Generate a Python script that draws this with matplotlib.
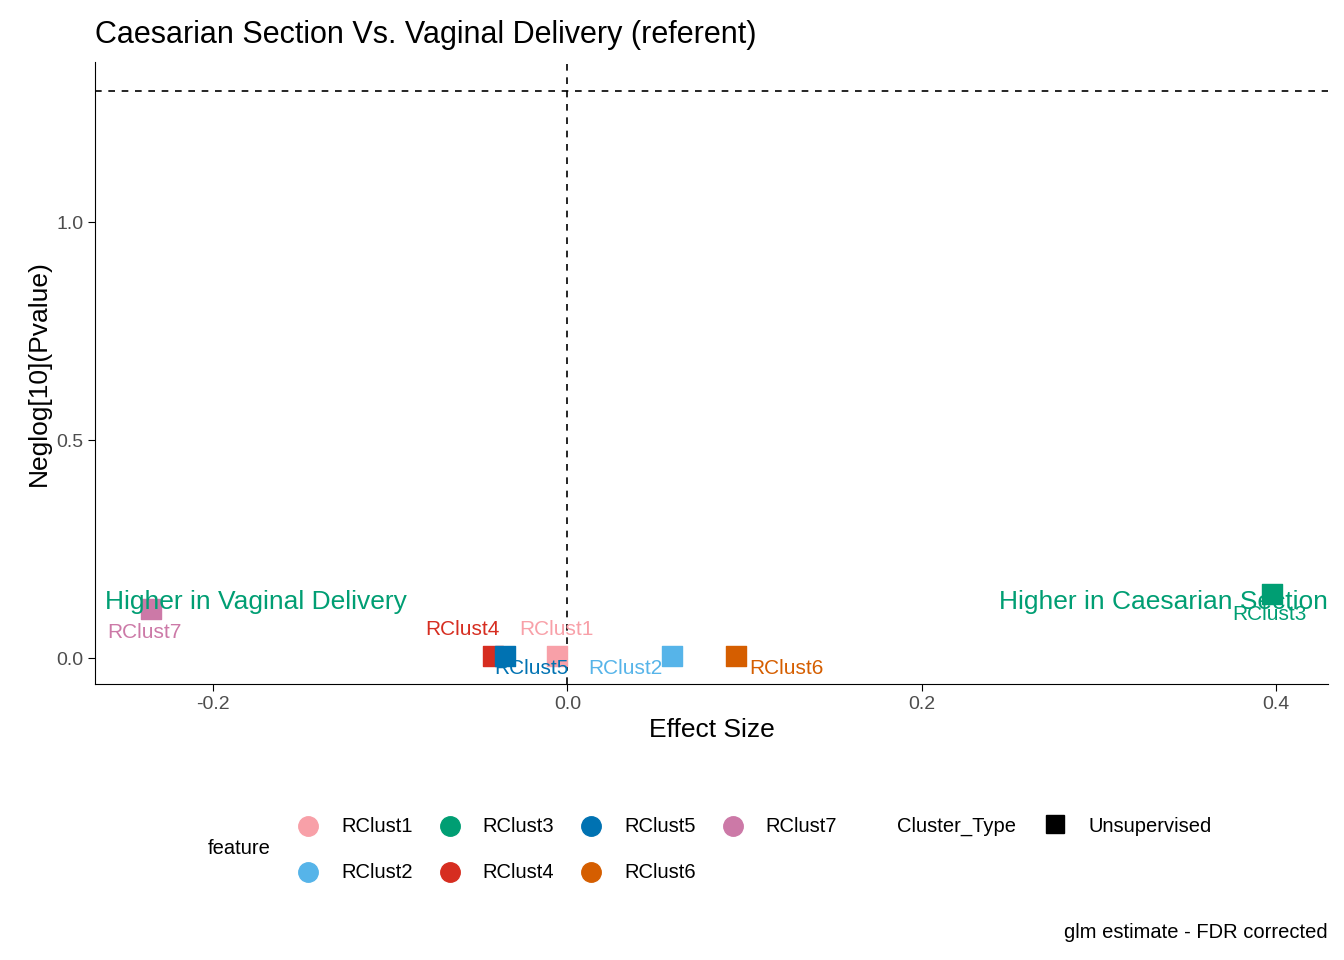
import matplotlib.pyplot as plt
from matplotlib.lines import Line2D

plt.rcParams['font.family'] = ['Liberation Sans', 'DejaVu Sans']

features = ['RClust1', 'RClust2', 'RClust3', 'RClust4', 'RClust5', 'RClust6', 'RClust7']
effect = [-0.006, 0.059, 0.398, -0.042, -0.035, 0.095, -0.235]
neglogp = [0.005, 0.005, 0.147, 0.005, 0.005, 0.005, 0.112]
colors = ['#F8A0A8', '#56B4E9', '#009E73', '#D62D20', '#0072B2', '#D55E00', '#CC79A7']
# label offsets in points (dx, dy) and alignment
label_off = {'RClust1': (-27, 19, 'left'), 'RClust2': (-60, -9, 'left'), 'RClust3': (-2, -15, 'center'),
             'RClust4': (5, 19, 'right'), 'RClust5': (-8, -9, 'left'), 'RClust6': (10, -9, 'left'),
             'RClust7': (-5, -17, 'center')}

fig = plt.figure(figsize=(13.44, 9.6), dpi=100)
ax = fig.add_axes([0.0707, 0.2875, 0.9173, 0.6479])

ax.axhline(1.301, color='black', ls=(0, (4, 4)), lw=1.2)
ax.axvline(0, color='black', ls=(0, (4, 4)), lw=1.2)
for f, x, y, c in zip(features, effect, neglogp, colors):
    ax.scatter(x, y, marker='s', s=190, color=c, zorder=3)
    dx, dy, ha = label_off[f]
    ax.annotate(f, (x, y), xytext=(dx, dy), textcoords='offset points', ha=ha, va='center',
                color=c, fontsize=15, zorder=4)

ax.text(-0.261, 0.128, 'Higher in Vaginal Delivery', color='#009E73', fontsize=19, va='center', ha='left')
ax.text(0.4293, 0.128, 'Higher in Caesarian Section', color='#009E73', fontsize=19, va='center', ha='right')

ax.set_xlim(-0.2666, 0.4293)
ax.set_ylim(-0.0596, 1.367)
ax.set_xticks([-0.2, 0.0, 0.2, 0.4])
ax.set_yticks([0.0, 0.5, 1.0])
ax.set_xticklabels(['-0.2', '0.0', '0.2', '0.4'])
ax.set_yticklabels(['0.0', '0.5', '1.0'])
ax.tick_params(labelsize=14, length=5, labelcolor='#4D4D4D')
for s in ['top', 'right']:
    ax.spines[s].set_visible(False)
ax.set_xlabel('Effect Size', fontsize=19)
ax.set_ylabel('Neglog[10](Pvalue)', fontsize=19)
ax.set_title('Caesarian Section Vs. Vaginal Delivery (referent)', fontsize=22, loc='left', x=0.0, pad=14)

# legend
fs = 14.5
fig.text(208 / 1344, 1 - 849 / 960, 'feature', fontsize=fs, va='center')
for i, (f, c) in enumerate(zip(features, colors)):
    col, row = i // 2, i % 2
    xk = (308 + col * 141.5) / 1344
    yk = 1 - (826 + row * 46) / 960
    fig.add_artist(Line2D([xk], [yk], marker='o', markersize=14, color=c, transform=fig.transFigure))
    fig.text(xk + 33 / 1344, yk, f, fontsize=fs, va='center')
fig.text(897 / 1344, 1 - 826 / 960, 'Cluster_Type', fontsize=fs, va='center')
fig.add_artist(Line2D([1055 / 1344], [1 - 824 / 960], marker='s', markersize=13, color='black',
                      transform=fig.transFigure))
fig.text(1089 / 1344, 1 - 826 / 960, 'Unsupervised', fontsize=fs, va='center')
fig.text(1328 / 1344, 1 - 933 / 960, 'glm estimate - FDR corrected', fontsize=fs, va='center', ha='right')

fig.savefig('out.png')
